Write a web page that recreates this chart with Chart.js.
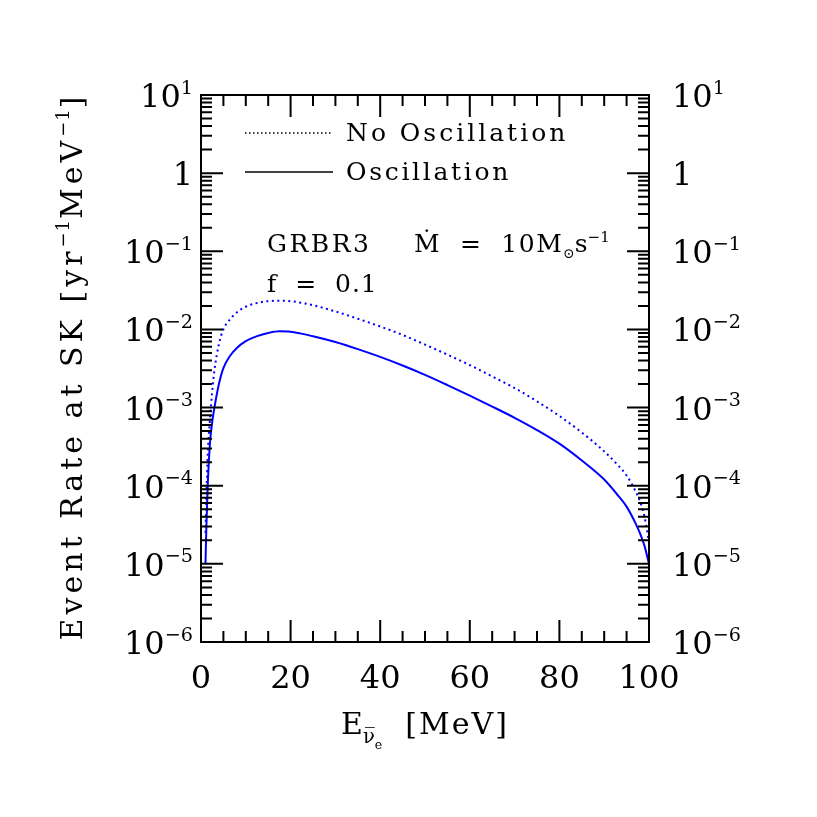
<!DOCTYPE html>
<html>
<head>
<meta charset="utf-8">
<script src="https://cdn.jsdelivr.net/npm/chart.js@4.4.1/dist/chart.umd.min.js"></script>
<style>
  html, body { margin: 0; padding: 0; background: #fff; }
  #wrap { width: 817px; height: 817px; }
</style>
</head>
<body>
<div id="wrap"><canvas id="grafico" width="817" height="817"></canvas></div>
<script>
// energia do antineutrino (MeV)
const energy = [1, 1.2, 1.5, 2, 2.5, 3, 4, 5, 6.5, 8, 10, 12.5, 15, 17.5, 20, 25, 30, 35, 40, 45,
  50, 55, 60, 65, 70, 75, 80, 85, 90, 93, 95, 97, 98, 99, 100];
// taxa de eventos em SK (yr^-1 MeV^-1)
const rateNoOsc = [2.5e-5, 7e-5, 2.5e-4, 7e-4, 1.6e-3, 3e-3, 6.5e-3, 1.0e-2, 1.35e-2, 1.65e-2, 1.95e-2,
  2.18e-2, 2.3e-2, 2.33e-2, 2.3e-2, 2.04e-2, 1.7e-2, 1.37e-2, 1.09e-2, 8.5e-3, 6.4e-3, 4.76e-3, 3.5e-3,
  2.5e-3, 1.78e-3, 1.2e-3, 7.8e-4, 4.8e-4, 2.75e-4, 1.85e-4, 1.35e-4, 8.5e-5, 6.3e-5, 4e-5, 1.9e-5];
const rateOsc = [1e-5, 3e-5, 1e-4, 3.5e-4, 6.5e-4, 1e-3, 2e-3, 3.2e-3, 4.6e-3, 5.8e-3, 7.1e-3,
  8.2e-3, 9.0e-3, 9.45e-3, 9.35e-3, 8.18e-3, 6.89e-3, 5.6e-3, 4.45e-3, 3.45e-3, 2.62e-3, 1.94e-3, 1.42e-3,
  1.03e-3, 7.4e-4, 5.16e-4, 3.45e-4, 2.1e-4, 1.2e-4, 7.6e-5, 5.4e-5, 3.3e-5, 2.45e-5, 1.7e-5, 1e-5];

const seriesNames = ["No Oscillation", "Oscillation"];
const xTicks = [0, 20, 40, 60, 80, 100];
const xTickLabels = ["0", "20", "40", "60", "80", "100"];
const yExps = [-6, -5, -4, -3, -2, -1, 0, 1];

const FONTE = "DejaVu Serif";
const AZUL = "#0000ff";

// desenha texto com partes sobrescritas/subscritas
function medirPartes(ctx, partes, tam) {
  let w = 0;
  for (const p of partes) {
    ctx.font = `${tam * (p.s || 1)}px "${FONTE}"`;
    ctx.letterSpacing = (p.ls || 0) + "px";
    w += ctx.measureText(p.t).width;
  }
  return w;
}

function desenharPartes(ctx, partes, x, y, tam, align) {
  const w = medirPartes(ctx, partes, tam);
  let cx = x;
  if (align === "right") cx = x - w;
  else if (align === "center") cx = x - w / 2;
  ctx.textAlign = "left";
  ctx.textBaseline = "alphabetic";
  for (const p of partes) {
    ctx.font = `${tam * (p.s || 1)}px "${FONTE}"`;
    ctx.letterSpacing = (p.ls || 0) + "px";
    ctx.fillText(p.t, cx, y + (p.dy || 0) * tam);
    cx += ctx.measureText(p.t).width;
  }
  ctx.letterSpacing = "0px";
}

function rotuloY(e) {
  if (e === 0) return [{ t: "1" }];
  const exp = e < 0 ? "\u2212" + (-e) : String(e);
  return [{ t: "10" }, { t: exp, s: 0.6, dy: -0.42 }];
}

const molduraPlugin = {
  id: "moldura",
  afterDraw(chart) {
    const ctx = chart.ctx;
    const a = chart.chartArea;
    const sx = chart.scales.x;
    const sy = chart.scales.y;
    ctx.save();
    ctx.strokeStyle = "#000";
    ctx.fillStyle = "#000";
    ctx.lineWidth = 2;
    ctx.strokeRect(a.left, a.top, a.right - a.left, a.bottom - a.top);

    // marcas do eixo x
    ctx.beginPath();
    for (let v = 0; v <= 100; v += 5) {
      const px = sx.getPixelForValue(v);
      const len = v % 20 === 0 ? 22 : 11;
      ctx.moveTo(px, a.bottom); ctx.lineTo(px, a.bottom - len);
      ctx.moveTo(px, a.top); ctx.lineTo(px, a.top + len);
    }
    // marcas do eixo y (log)
    for (let e = -6; e <= 1; e++) {
      for (let m = 1; m <= 9; m++) {
        const v = m * Math.pow(10, e);
        if (v > 10.0001) continue;
        const py = sy.getPixelForValue(v);
        const len = m === 1 ? 22 : 11;
        ctx.moveTo(a.left, py); ctx.lineTo(a.left + len, py);
        ctx.moveTo(a.right, py); ctx.lineTo(a.right - len, py);
      }
    }
    ctx.stroke();

    // rótulos
    const tam = 32;
    xTicks.forEach((v, i) => {
      desenharPartes(ctx, [{ t: xTickLabels[i] }], sx.getPixelForValue(v), a.bottom + 46, tam, "center");
    });
    yExps.forEach(e => {
      const py = sy.getPixelForValue(Math.pow(10, e)) + 12;
      desenharPartes(ctx, rotuloY(e), a.left - 8, py, tam, "right");
      desenharPartes(ctx, rotuloY(e), a.right + 23, py, tam, "left");
    });

    // título do eixo x
    const tt = 30;
    desenharPartes(ctx, [
      { t: "E" },
      { t: "\u03BD\u0305", s: 0.65, dy: 0.3 },
      { t: "e", s: 0.42, dy: 0.5 },
      { t: "  [MeV]", ls: 2 }
    ], (a.left + a.right) / 2, a.bottom + 92, tt, "center");

    // título do eixo y
    ctx.save();
    ctx.translate(82, (a.top + a.bottom) / 2);
    ctx.rotate(-Math.PI / 2);
    desenharPartes(ctx, [
      { t: "Event Rate at SK [yr", ls: 4 },
      { t: "\u22121", s: 0.6, dy: -0.42, ls: 1 },
      { t: "MeV", ls: 4 },
      { t: "\u22121", s: 0.6, dy: -0.42, ls: 1 },
      { t: "]" }
    ], 0, 0, tt, "center");
    ctx.restore();

    // legenda
    const lt = 25;
    ctx.lineWidth = 1.6;
    ctx.setLineDash([1.5, 2.5]);
    ctx.beginPath(); ctx.moveTo(245, 133); ctx.lineTo(333, 133); ctx.stroke();
    ctx.setLineDash([]);
    ctx.beginPath(); ctx.moveTo(245, 172); ctx.lineTo(333, 172); ctx.stroke();
    desenharPartes(ctx, [{ t: seriesNames[0], ls: 3 }], 346, 141, lt, "left");
    desenharPartes(ctx, [{ t: seriesNames[1], ls: 2.7 }], 346, 180, lt, "left");

    // anotações
    desenharPartes(ctx, [{ t: "GRBR3", ls: 2.5 }], 267, 252, lt, "left");
    desenharPartes(ctx, [
      { t: "\u1E40  =  10M", ls: 1.5 },
      { t: "\u2299", s: 0.55, dy: 0.25 },
      { t: "s" },
      { t: "\u22121", s: 0.6, dy: -0.42 }
    ], 414, 252, lt, "left");
    desenharPartes(ctx, [{ t: "f  =  0.1", ls: 1 }], 267, 292, lt, "left");
    ctx.restore();
  }
};

const pontos = arr => energy.map((e, i) => ({ x: e, y: arr[i] }));

new Chart(document.getElementById("grafico"), {
  type: "line",
  data: {
    datasets: [
      {
        label: seriesNames[0],
        data: pontos(rateNoOsc),
        borderColor: AZUL,
        borderWidth: 2,
        borderDash: [2, 3.5],
        pointRadius: 0,
        cubicInterpolationMode: "monotone",
        fill: false
      },
      {
        label: seriesNames[1],
        data: pontos(rateOsc),
        borderColor: AZUL,
        borderWidth: 2,
        pointRadius: 0,
        cubicInterpolationMode: "monotone",
        fill: false
      }
    ]
  },
  options: {
    responsive: false,
    animation: false,
    devicePixelRatio: 1,
    layout: { padding: { left: 201, right: 168, top: 95, bottom: 175 } },
    scales: {
      x: { type: "linear", min: 0, max: 100, display: false },
      y: { type: "logarithmic", min: 1e-6, max: 10, display: false }
    },
    plugins: { legend: { display: false }, tooltip: { enabled: false } }
  },
  plugins: [molduraPlugin]
});
</script>
</body>
</html>
